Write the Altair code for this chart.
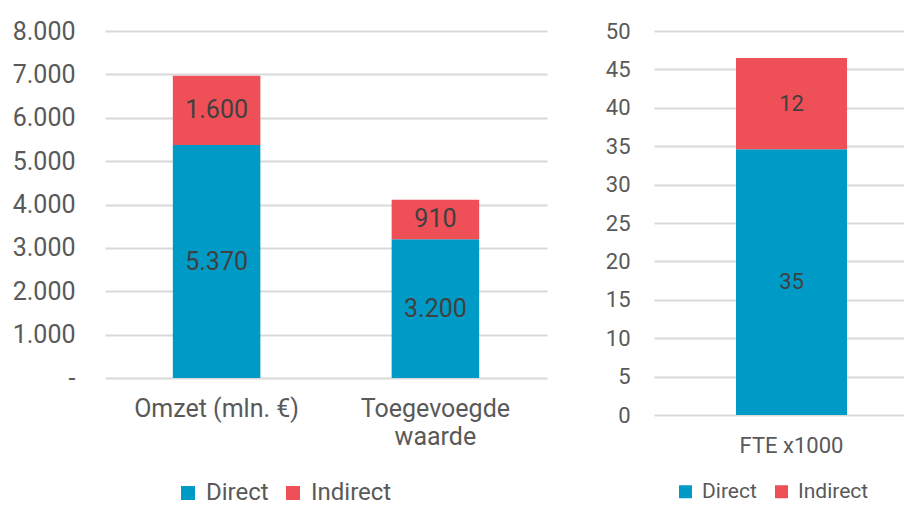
import altair as alt
import pandas as pd

# ---- data ----
left_cats = ["Omzet (mln. €)", "Toegevoegde waarde"]
left_direct = [5370, 3200]
left_indirect = [1600, 910]

right_cats = ["FTE x1000"]
right_direct = [34.6]
right_indirect = [11.9]

series = ["Direct", "Indirect"]
colors = ["#009AC6", "#EF4F57"]

left_ticks = [0, 1000, 2000, 3000, 4000, 5000, 6000, 7000, 8000]
right_ticks = [0, 5, 10, 15, 20, 25, 30, 35, 40, 45, 50]

FONT = "Roboto"


def build_df(cats, direct, indirect):
    rows = []
    for c, d, i in zip(cats, direct, indirect):
        rows.append({"cat": c, "series": "Direct", "value": d, "order": 0})
        rows.append({"cat": c, "series": "Indirect", "value": i, "order": 1})
    return pd.DataFrame(rows)


left_df = build_df(left_cats, left_direct, left_indirect)
right_df = build_df(right_cats, right_direct, right_indirect)

nl_fmt = "replace(format(datum.value, ','), ',', '.')"


def panel(df, cats, ticks, ymax, width, height, label_size, pad_inner, pad_outer,
          align, y_label_expr, text_expr, label_pad_y, label_pad_x, legend_x, legend_y,
          legend_size, symbol_size, label_offset, col_pad):
    base = alt.Chart(df).transform_stack(
        stack="value", groupby=["cat"], as_=["v0", "v1"], sort=[alt.SortField("order")]
    ).transform_calculate(mid="(datum.v0 + datum.v1) / 2")

    x_scale = alt.Scale(paddingInner=pad_inner, paddingOuter=pad_outer, align=align)
    x_axis = alt.Axis(
        labelAngle=0,
        labelFontSize=label_size,
        labelColor="#595959",
        labelFont=FONT,
        labelPadding=label_pad_x,
        labelExpr="length(datum.label) > 15 ? split(datum.label, ' ') : datum.label",
        labelLineHeight=label_size * 1.15,
        domain=False,
        ticks=False,
        grid=False,
    )
    y_scale = alt.Scale(domain=[0, ymax], nice=False)
    y_axis = alt.Axis(
        values=ticks,
        labelExpr=y_label_expr,
        labelFontSize=label_size,
        labelColor="#595959",
        labelFont=FONT,
        labelPadding=label_pad_y,
        labelOverlap=False,
        domain=False,
        ticks=False,
        grid=True,
        gridColor="#D9D9D9",
        gridWidth=2,
    )

    bars = base.mark_bar().encode(
        x=alt.X("cat:N", sort=cats, title=None, scale=x_scale, axis=x_axis),
        y=alt.Y("v0:Q", scale=y_scale, title=None, axis=y_axis),
        y2="v1:Q",
        color=alt.Color(
            "series:N",
            scale=alt.Scale(domain=series, range=colors),
            legend=alt.Legend(
                title=None,
                orient="none",
                direction="horizontal",
                legendX=legend_x,
                legendY=legend_y,
                symbolType="square",
                symbolSize=symbol_size,
                symbolStrokeWidth=0,
                labelFontSize=legend_size,
                labelFont=FONT,
                labelColor="#595959",
                columnPadding=col_pad,
                labelOffset=label_offset,
            ),
        ),
    )

    text = base.mark_text(
        fontSize=label_size, font=FONT, color="#404040", baseline="middle"
    ).encode(
        x=alt.X("cat:N", sort=cats, title=None, scale=x_scale, axis=x_axis),
        y=alt.Y("mid:Q", scale=y_scale, title=None, axis=y_axis),
        text=alt.Text("label:N"),
    ).transform_calculate(label=text_expr)

    return alt.layer(bars, text).properties(width=width, height=height)


left = panel(
    left_df, left_cats, left_ticks, 8000, 442, 347, 25, 0.6, 0.31, 0.5,
    "datum.value == 0 ? '-' : " + nl_fmt,
    "replace(format(datum.value, ','), ',', '.')",
    30, 18, 71, 450, 24, 196, 6, 12,
)

right = panel(
    right_df, right_cats, right_ticks, 50, 250, 384, 22, 0.0, 0.626, 0.59,
    "format(datum.value, 'd')",
    "format(datum.value, '.0f')",
    24, 20, 21, 450, 21, 169, 6, 14,
)

chart = alt.hconcat(left, right, spacing=58).resolve_scale(
    color="independent", x="independent", y="independent"
).resolve_legend(color="independent").properties(
    padding={"left": 4, "top": 11, "right": 0, "bottom": 0},
    background="white",
).configure_view(stroke=None)

chart.save("out.html", embed_options={"renderer": "svg", "actions": False})
